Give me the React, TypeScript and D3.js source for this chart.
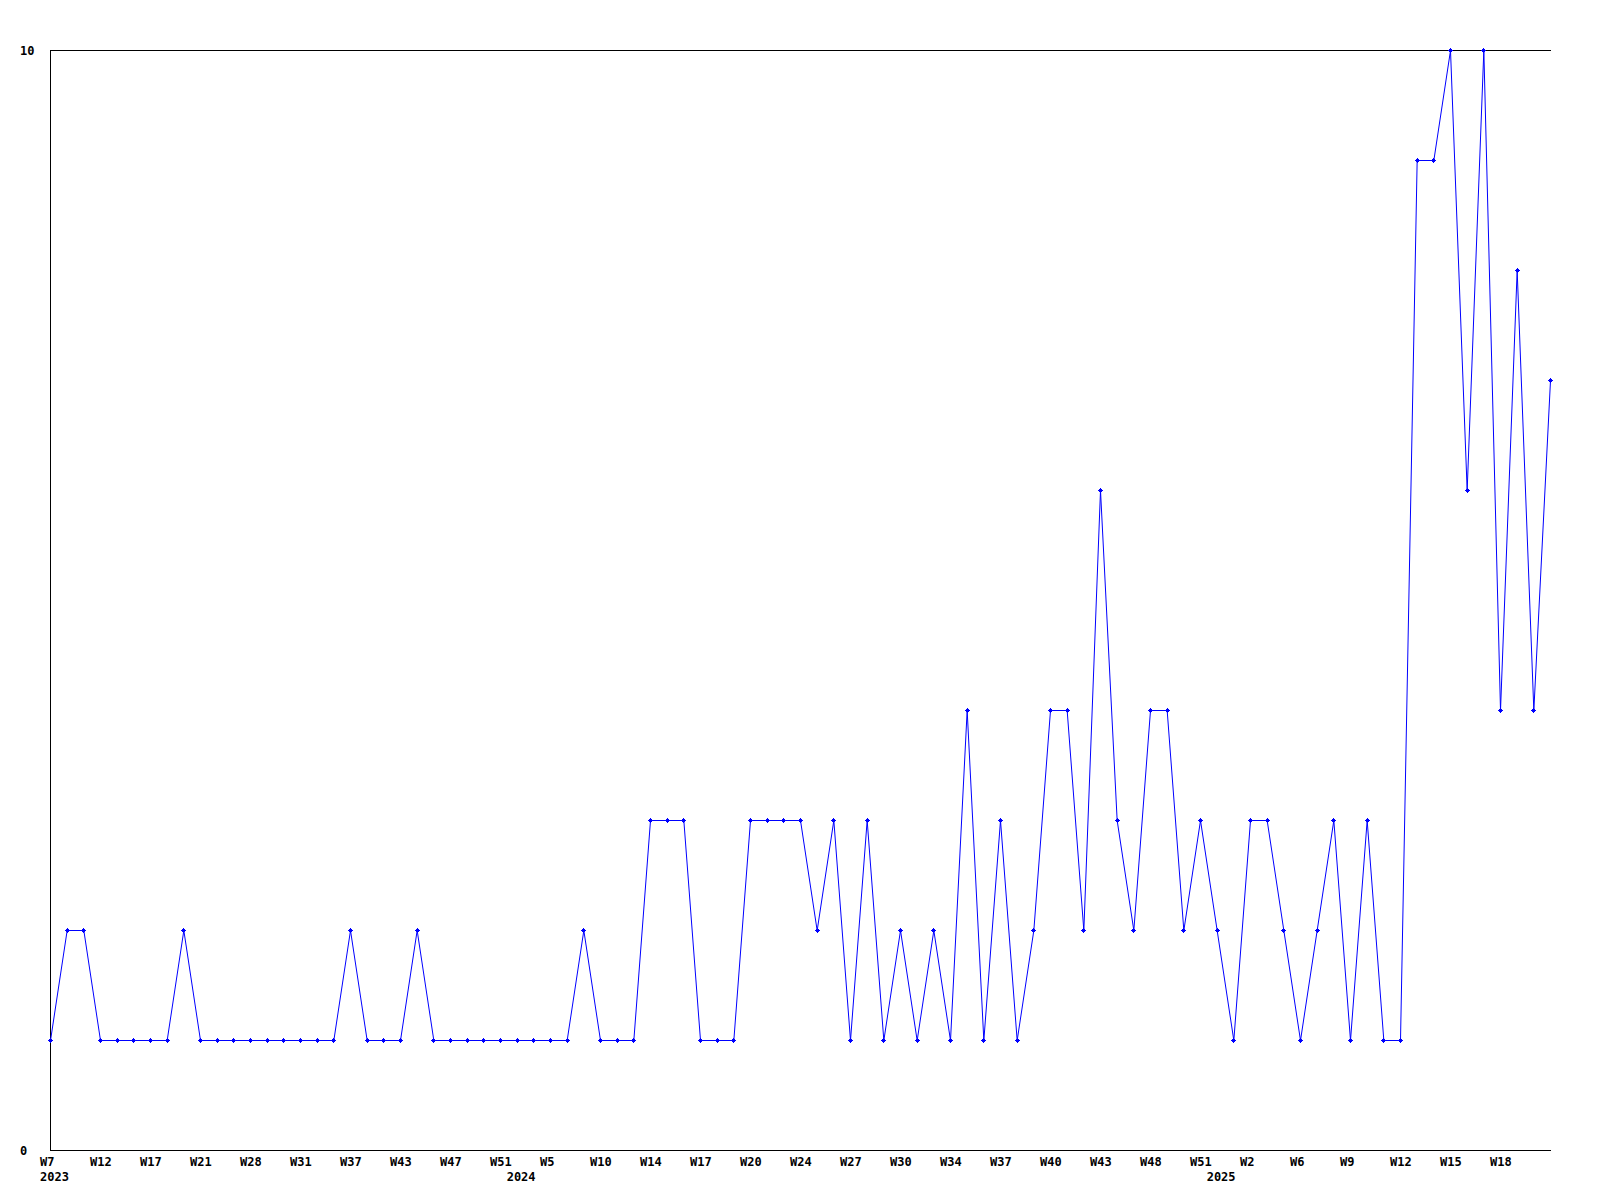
import React from "react";
import * as d3 from "d3";

// Weekly values, 2023 W7 .. 2025 W20 (one point per plotted week)
const values: number[] = [
  1, 2, 2, 1, 1, 1, 1, 1, 2, 1,
  1, 1, 1, 1, 1, 1, 1, 1, 2, 1,
  1, 1, 2, 1, 1, 1, 1, 1, 1, 1,
  1, 1, 2, 1, 1, 1, 3, 3, 3, 1,
  1, 1, 3, 3, 3, 3, 2, 3, 1, 3,
  1, 2, 1, 2, 1, 4, 1, 3, 1, 2,
  4, 4, 2, 6, 3, 2, 4, 4, 2, 3,
  2, 1, 3, 3, 2, 1, 2, 3, 1, 3,
  1, 1, 9, 9, 10, 6, 10, 4, 8, 4,
  7,
];

// Tick labels, one every TICK_STEP points starting at index 0
const tickLabels: string[] = [
  "W7", "W12", "W17", "W21", "W28", "W31", "W37", "W43", "W47", "W51",
  "W5", "W10", "W14", "W17", "W20", "W24", "W27", "W30", "W34", "W37",
  "W40", "W43", "W48", "W51", "W2", "W6", "W9", "W12", "W15", "W18",
];
const TICK_STEP = 3;

const yearLabels: string[] = ["2023", "2024", "2025"];
const yearIndices: number[] = [0, 28, 70];

const yTickValues: number[] = [0, 10];

const W = 1600;
const H = 1200;
const left = 50;
const right = 1550;
const top = 50;
const bottom = 1150;
const font = "'DejaVu Sans Mono', 'Liberation Mono', monospace";
const blue = "#0000ff";

export default function App() {
  const x = d3.scaleLinear().domain([0, values.length - 1]).range([left, right]);
  const y = d3.scaleLinear().domain([0, 10]).range([bottom, top]);
  const line = d3
    .line<number>()
    .x((_, i) => x(i))
    .y((d) => y(d));

  return (
    <svg
      width={W}
      height={H}
      viewBox={`0 0 ${W} ${H}`}
      style={{ position: "absolute", left: 0, top: 0, background: "#fff" }}
    >
      <rect x={0} y={0} width={W} height={H} fill="#fff" />
      {/* frame: top, left, bottom */}
      <g stroke="#000" strokeWidth={1} shapeRendering="crispEdges">
        <line x1={x(0)} x2={x(values.length - 1) + 1} y1={y(10) + 0.5} y2={y(10) + 0.5} />
        <line x1={x(0) + 0.5} x2={x(0) + 0.5} y1={y(10)} y2={y(0)} />
        <line x1={x(0)} x2={x(values.length - 1) + 1} y1={y(0) + 0.5} y2={y(0) + 0.5} />
      </g>
      {/* labels */}
      <g fontFamily={font} fontWeight="bold" fontSize={12} fill="#000">
        {yTickValues.map((v) => (
          <text key={v} x={20} y={y(v) + 1} dominantBaseline="middle">
            {v}
          </text>
        ))}
        {tickLabels.map((t, k) => (
          <text key={"t" + k} x={x(k * TICK_STEP) - 10} y={1162} dominantBaseline="middle">
            {t}
          </text>
        ))}
        {yearLabels.map((t, k) => (
          <text key={"y" + k} x={x(yearIndices[k]) - 10} y={1177} dominantBaseline="middle">
            {t}
          </text>
        ))}
      </g>
      {/* data line */}
      <path
        d={line(values) || ""}
        fill="none"
        stroke={blue}
        strokeWidth={1}
        transform="translate(0.5,0.5)"
      />
      <g fill={blue} shapeRendering="crispEdges">
        {values.map((v, i) => {
          const cx = Math.round(x(i));
          const cy = Math.round(y(v));
          return (
            <g key={i} transform={`translate(${cx},${cy})`}>
              <rect x={-2} y={0} width={5} height={1} />
              <rect x={0} y={-2} width={1} height={5} />
              <rect x={-1} y={-1} width={3} height={3} />
            </g>
          );
        })}
      </g>
    </svg>
  );
}
